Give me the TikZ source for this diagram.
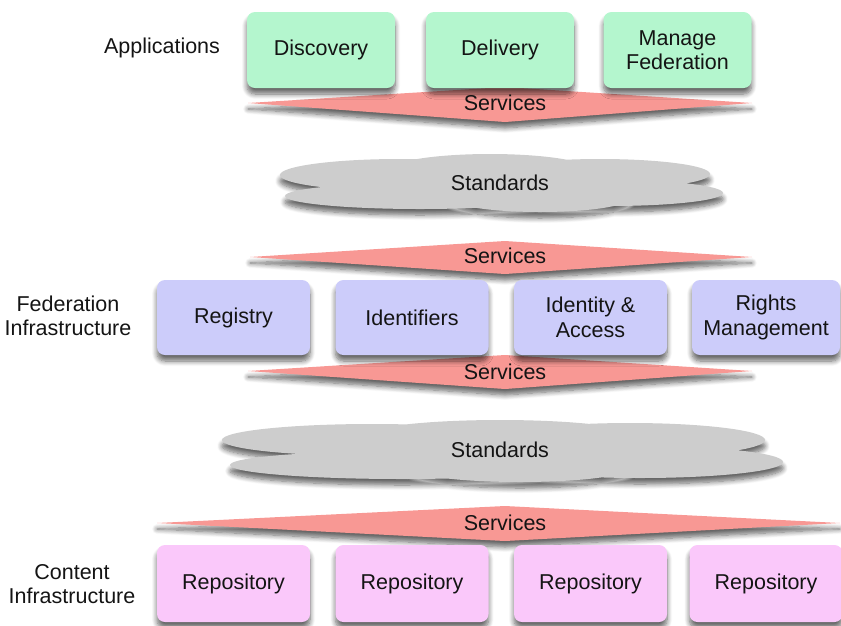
\documentclass[tikz,border=0pt]{standalone}
\usepackage{fontspec}
\setmainfont{Liberation Sans}
\usepackage{tikz}
\usetikzlibrary{shadows.blur}

\definecolor{appgreen}{RGB}{180,246,206}
\definecolor{fedblue}{RGB}{204,204,250}
\definecolor{repopink}{RGB}{250,200,250}
\definecolor{srvred}{RGB}{248,152,148}
\definecolor{stdgray}{RGB}{205,205,205}
\definecolor{txt}{RGB}{20,20,20}

\tikzset{
	soft/.style={blur shadow={shadow xshift=0pt, shadow yshift=-6pt, shadow blur radius=5pt, shadow blur steps=8, shadow opacity=60}},
	layerbox/.style={soft, rounded corners=8pt, minimum height=76pt, align=center, inner sep=0pt},
	appbox/.style={layerbox, fill=appgreen, minimum width=148pt},
	fedbox/.style={layerbox, fill=fedblue, minimum width=153pt},
	repobox/.style={layerbox, fill=repopink, minimum width=153pt},
	srv/.style={soft, fill=srvred},
	cloud/.style={soft, fill=stdgray},
	lbl/.style={align=center, inner sep=0pt}
}

\begin{document}
\begin{tikzpicture}[x=1pt, y=-1pt, font=\fontsize{21.5}{24.5}\selectfont, text=txt]
	\useasboundingbox (0,0) rectangle (841,625);
	% services bands
	\path[srv] (248,103) -- (505,87) -- (752,103) -- (505,122) -- cycle;
	\path[srv] (250,257) -- (505,241) -- (752,257) -- (505,274) -- cycle;
	\path[srv] (248,371) -- (505,355) -- (752,371) -- (505,389) -- cycle;
	\path[srv] (157,523) -- (505,506) -- (840,523) -- (505,541) -- cycle;
	% standards clouds
	\path[cloud] (400,175) ellipse [x radius=120, y radius=16]
		(420,196) ellipse [x radius=135, y radius=13]
		(490,170) ellipse [x radius=100, y radius=16]
		(600,174) ellipse [x radius=110, y radius=15]
		(610,193) ellipse [x radius=113, y radius=13]
		(540,198) ellipse [x radius=90, y radius=14];
	\path[cloud] (372,440) ellipse [x radius=150, y radius=16]
		(402,465) ellipse [x radius=172, y radius=14]
		(500,437) ellipse [x radius=140, y radius=17]
		(630,440) ellipse [x radius=135, y radius=17]
		(640,462) ellipse [x radius=143, y radius=16]
		(520,468) ellipse [x radius=110, y radius=14];
	\node[lbl] (std1) at (500,183) {Standards};
	\node[lbl] (std2) at (500,450) {Standards};
	% applications
	\node[lbl] (apps) at (162,48) {Applications};
	\node[appbox] (disc) at (321,50) {Discovery};
	\node[appbox] (deliv) at (500,50) {Delivery};
	\node[appbox] (manage) at (677.5,50) {Manage\\Federation};
	% federation infrastructure
	\node[lbl] (fedinf) at (68,316) {Federation\\Infrastructure};
	\node[fedbox, minimum height=75pt] (reg) at (233.5,317.5) {Registry};
	\node[fedbox, minimum height=75pt] (ident) at (412,317.5) {Identifiers};
	\node[fedbox, minimum height=75pt] (idacc) at (590.5,317.5) {Identity \&\\Access};
	\node[fedbox, minimum height=75pt, minimum width=148pt] (rights) at (766,317.5) {Rights\\Management};
	% content infrastructure
	\node[lbl] (continf) at (72,584) {Content\\Infrastructure};
	\foreach \x/\n in {233.5/1, 412/2, 590.5/3, 766/4}
	{
		\node[repobox, minimum height=77pt] (repo\n) at (\x,583.5) {Repository};
	}
	% services labels
	\node[lbl] (srv1) at (505,103) {Services};
	\node[lbl] (srv2) at (505,256) {Services};
	\node[lbl] (srv3) at (505,372) {Services};
	\node[lbl] (srv4) at (505,523) {Services};
\end{tikzpicture}
\end{document}
